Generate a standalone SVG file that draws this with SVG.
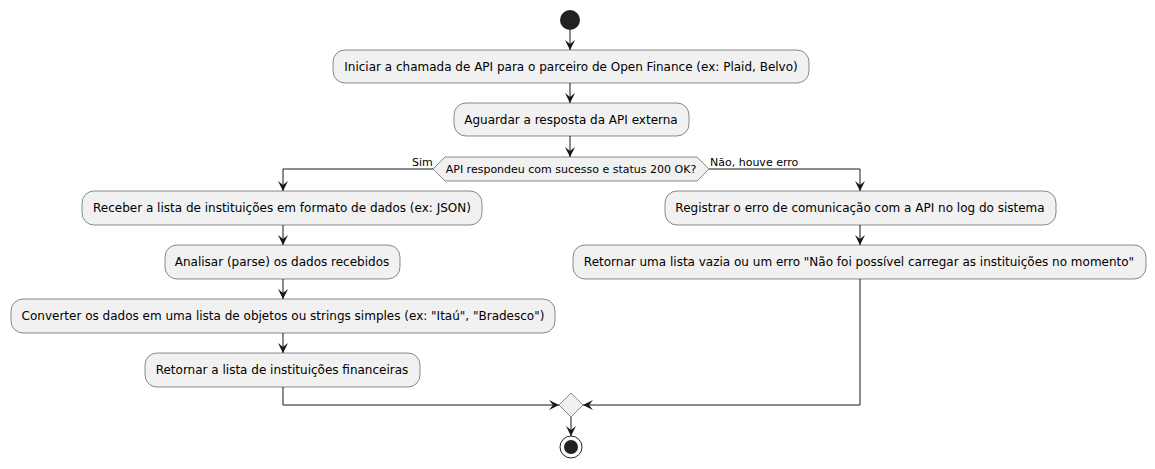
<svg xmlns="http://www.w3.org/2000/svg" width="1155" height="469" viewBox="0 0 1155 469">
<style>
.act{fill:#F1F1F1;stroke:#181818;stroke-width:0.5}
.t{font-family:"DejaVu Sans",sans-serif;font-size:12px;fill:#000;text-anchor:middle}
.s{font-family:"DejaVu Sans",sans-serif;font-size:11px;fill:#000}
.ln{fill:none;stroke:#181818;stroke-width:1}
</style>
<defs>
<marker id="ah" viewBox="0 0 10 10" refX="10" refY="5" markerWidth="10" markerHeight="10" markerUnits="userSpaceOnUse" orient="auto">
<path d="M0,0 L10,5 L0,10 L4,5 Z" fill="#181818"/>
</marker>
</defs>
<rect width="1155" height="469" fill="#fff"/>
<g id="connectors">
<path class="ln" d="M570,30 V50" marker-end="url(#ah)"/>
<path class="ln" d="M570,83 V103" marker-end="url(#ah)"/>
<path class="ln" d="M570,136 V157" marker-end="url(#ah)"/>
<path class="ln" d="M433,169 H283 V191" marker-end="url(#ah)"/>
<path class="ln" d="M283,225 V245" marker-end="url(#ah)"/>
<path class="ln" d="M283,279 V299" marker-end="url(#ah)"/>
<path class="ln" d="M283,333 V353" marker-end="url(#ah)"/>
<path class="ln" d="M283,387 V405 H559" marker-end="url(#ah)"/>
<path class="ln" d="M709,169 H860 V191" marker-end="url(#ah)"/>
<path class="ln" d="M860,225 V245" marker-end="url(#ah)"/>
<path class="ln" d="M860,279 V405 H583" marker-end="url(#ah)"/>
<path class="ln" d="M571,417 V436" marker-end="url(#ah)"/>
<text class="s" x="412" y="166">Sim</text>
<text class="s" x="710" y="166">Não, houve erro</text>
</g>
<g id="start"><circle cx="570" cy="20" r="10" fill="#222"/></g>
<g id="n1"><rect class="act" x="333" y="50" width="476" height="33" rx="12"/><text class="t" x="571" y="71">Iniciar a chamada de API para o parceiro de Open Finance (ex: Plaid, Belvo)</text></g>
<g id="n2"><rect class="act" x="454" y="103" width="235" height="33" rx="12"/><text class="t" x="571" y="124">Aguardar a resposta da API externa</text></g>
<g id="d1"><polygon class="act" points="433,169 445,157 697,157 709,169 697,181 445,181"/><text class="s" x="571" y="173" text-anchor="middle">API respondeu com sucesso e status 200 OK?</text></g>
<g id="n3"><rect class="act" x="82" y="191" width="400" height="34" rx="12"/><text class="t" x="282" y="212">Receber a lista de instituições em formato de dados (ex: JSON)</text></g>
<g id="n4"><rect class="act" x="165" y="245" width="235" height="34" rx="12"/><text class="t" x="282" y="266">Analisar (parse) os dados recebidos</text></g>
<g id="n5"><rect class="act" x="11" y="299" width="544" height="34" rx="12"/><text class="t" x="283" y="320">Converter os dados em uma lista de objetos ou strings simples (ex: "Itaú", "Bradesco")</text></g>
<g id="n6"><rect class="act" x="145" y="353" width="275" height="34" rx="12"/><text class="t" x="282" y="374">Retornar a lista de instituições financeiras</text></g>
<g id="n7"><rect class="act" x="665" y="191" width="391" height="34" rx="12"/><text class="t" x="860" y="212">Registrar o erro de comunicação com a API no log do sistema</text></g>
<g id="n8"><rect class="act" x="573" y="245" width="573" height="34" rx="12"/><text class="t" x="859" y="266">Retornar uma lista vazia ou um erro "Não foi possível carregar as instituições no momento"</text></g>
<g id="merge"><polygon class="act" points="571,393 583,405 571,417 559,405"/></g>
<g id="end"><circle cx="571" cy="447" r="11" fill="none" stroke="#222" stroke-width="1"/><circle cx="571" cy="447" r="7" fill="#222"/></g>
</svg>
